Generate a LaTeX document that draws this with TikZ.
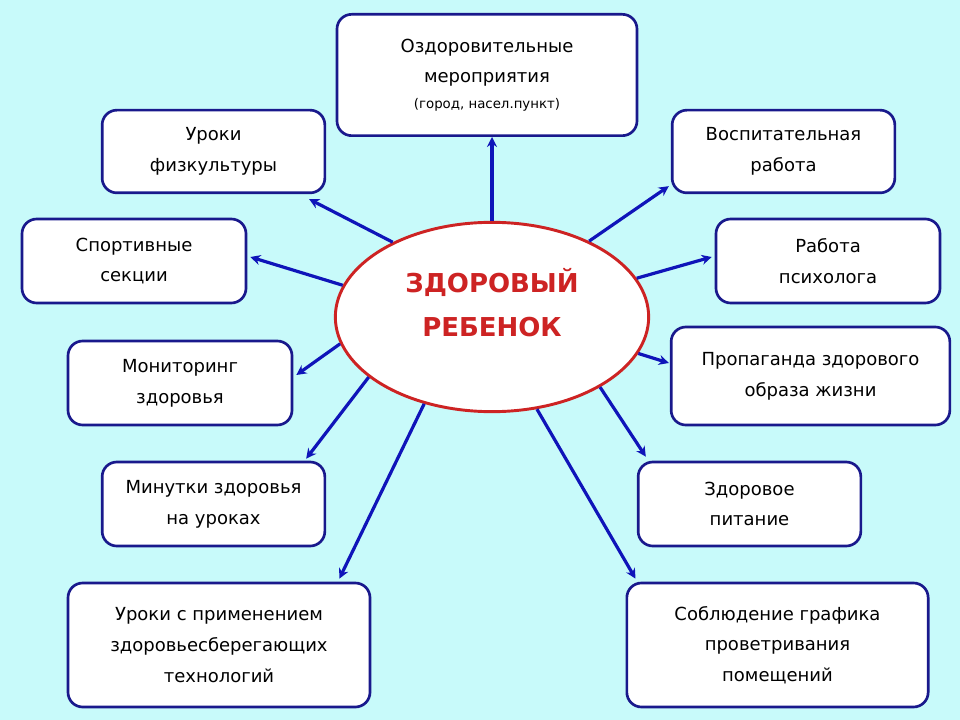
\documentclass[tikz,border=0pt]{standalone}
\usepackage{fontspec}
\setmainfont{DejaVu Sans}
\usetikzlibrary{calc,shapes.geometric,arrows.meta}
\definecolor{bgcyan}{RGB}{200,250,250}
\definecolor{boxblue}{RGB}{25,25,140}
\definecolor{arrblue}{RGB}{15,20,185}
\definecolor{heartred}{RGB}{205,35,35}
\tikzset{
    topic/.style = {
        draw=boxblue,
        fill=white,
        line width=2pt,
        rounded corners=11pt,
        align=center,
        inner sep=0pt,
        font=\fontsize{13.5}{23}\selectfont
    },
    core/.style = {
        ellipse,
        draw=heartred,
        fill=white,
        line width=2.2pt,
        inner sep=0pt,
        minimum width=235pt,
        minimum height=142pt
    },
    coretext/.style = {
        align=center,
        text=heartred,
        font=\fontsize{19.5}{33}\selectfont\bfseries
    },
    link/.style = {
        -{Stealth[length=7.5pt,width=7.5pt]},
        arrblue,
        line width=2.4pt
    }
}

\begin{document}
\begin{tikzpicture}[x=0.75pt,y=-0.75pt]
    % Background
    \fill[bgcyan] (0,0) rectangle (960,720);
    \useasboundingbox (0,0) rectangle (960,720);

    % Draw the centre
    \node[core] (kid) at (492,317) {};
    \node[coretext] (kidtext) at (492,303) {ЗДОРОВЫЙ\\РЕБЕНОК};

    % Draw all boxes
    \node[topic, minimum width=225pt, minimum height=91pt] (ozd) at (487,75)
        {Оздоровительные\\мероприятия\\[-4pt]{\fontsize{10}{12}\selectfont (город, насел.пункт)}};
    \node[topic, minimum width=167pt, minimum height=62pt] (fiz) at (213.5,151.5) {Уроки\\физкультуры};
    \node[topic, minimum width=167pt, minimum height=62pt] (vos) at (783.5,151.5) {Воспитательная\\работа};
    \node[topic, minimum width=168pt, minimum height=63pt] (sport) at (134,261) {Спортивные\\секции};
    \node[topic, minimum width=168pt, minimum height=63pt] (psy) at (828,261) {Работа\\психолога};
    \node[topic, minimum width=168pt, minimum height=63pt] (mon) at (180,383) {Мониторинг\\здоровья};
    \node[topic, minimum width=209pt, minimum height=73.5pt] (prop) at (810.5,376) {Пропаганда здорового\\образа жизни};
    \node[topic, minimum width=167pt, minimum height=63pt] (min) at (213.5,504) {Минутки здоровья\\на уроках};
    \node[topic, minimum width=167pt, minimum height=63pt] (pit) at (749.5,504) {Здоровое\\питание};
    \node[topic, minimum width=226.5pt, minimum height=93pt] (urt) at (219,645)
        {Уроки с применением\\здоровьесберегающих\\технологий};
    \node[topic, minimum width=226pt, minimum height=93pt] (vent) at (777.5,645)
        {Соблюдение графика\\проветривания\\помещений};

    % Draw arrows
    \draw[link] (kid.90) -- (kid.90 |- ozd.south);
    \draw[link] (kid.143) -- ($(fiz.south east)+(-17,5)$);
    \draw[link] (kid.168) -- ($(sport.east)+(3,-4)$);
    \draw[link] (kid.190) -- ($(mon.east)+(3,-8)$);
    \draw[link] (kid.206) -- ($(min.north east)+(-20,-2)$);
    \draw[link] (kid.232) -- ($(urt.north east)+(-32,-3)$);
    %
    \draw[link] (kid.38) -- ($(vos.south west)+(-2,-8)$);
    \draw[link] (kid.15) -- ($(psy.west)+(-3,-4)$);
    \draw[link] (kid.-14) -- ($(prop.west)+(-1,-13)$);
    \draw[link] (kid.-33) -- ($(pit.north west)+(9,-4)$);
    \draw[link] (kid.-64) -- ($(vent.north west)+(10,-3)$);
\end{tikzpicture}
\end{document}
